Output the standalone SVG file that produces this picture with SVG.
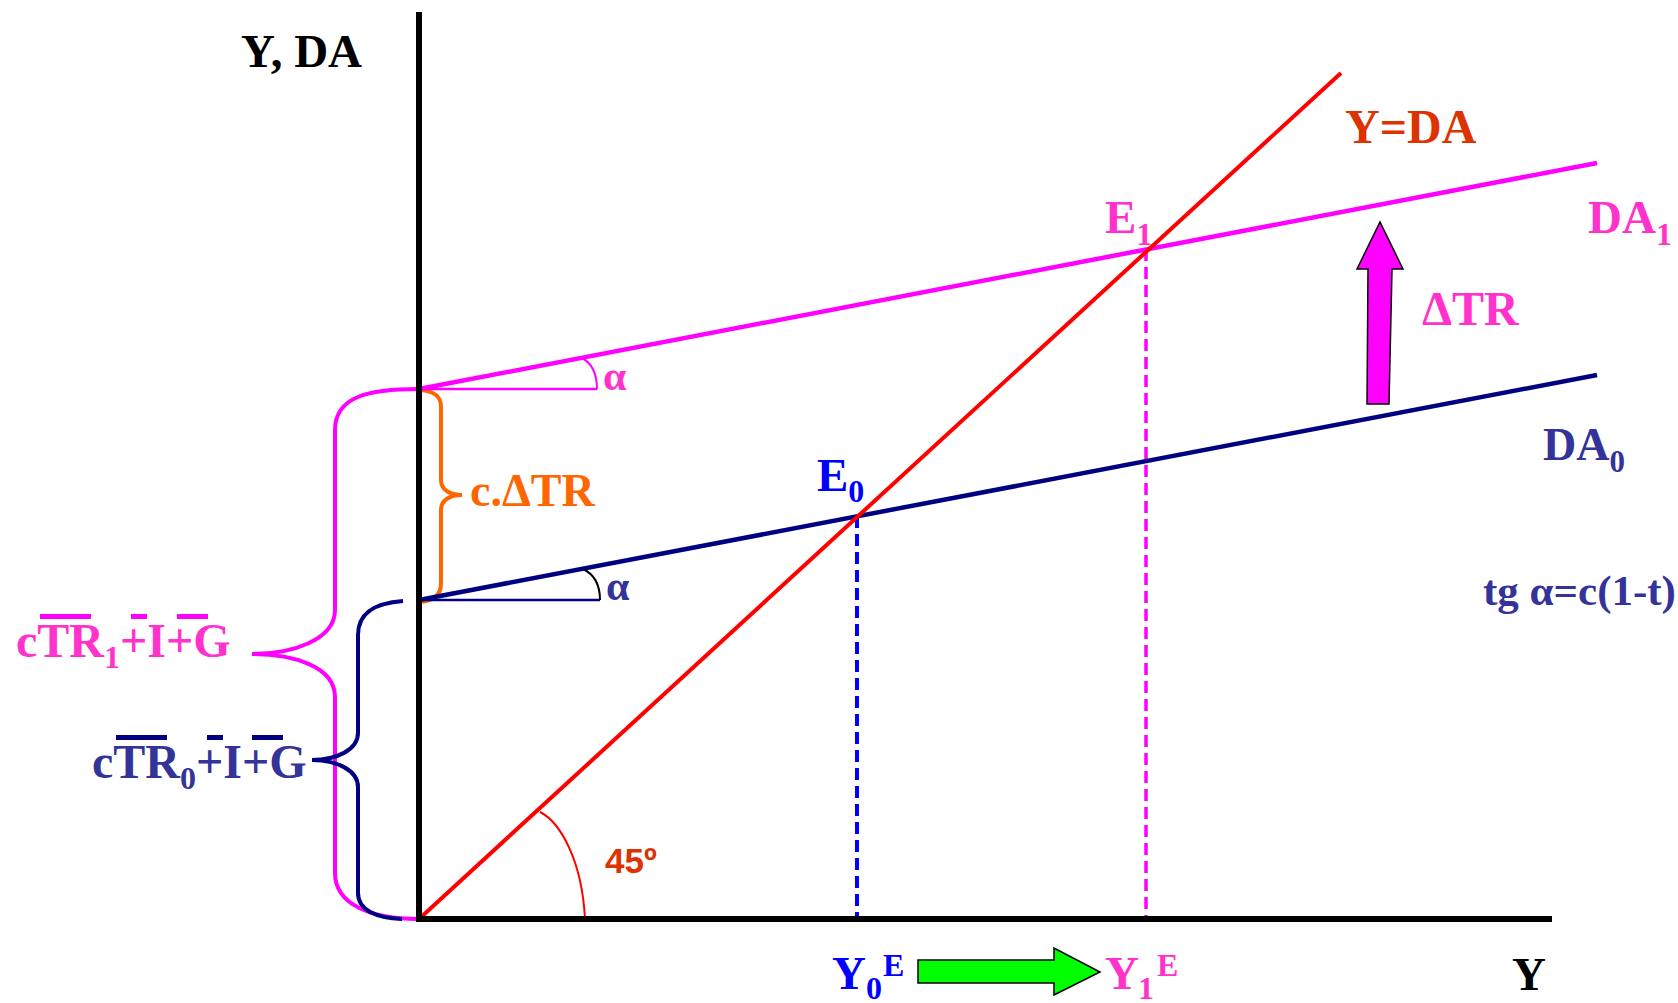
<svg xmlns="http://www.w3.org/2000/svg" width="1678" height="1003" viewBox="0 0 1678 1003">
<style>
text{font-family:"Liberation Serif","Times New Roman",serif;font-weight:bold}
.sans{font-family:"Liberation Sans",Arial,sans-serif}
.mt{fill:#FF33CC}
.nt{fill:#333399}
.bt{fill:#0000FF}
.ln{fill:none;stroke-linecap:butt}
</style>
<rect width="1678" height="1003" fill="#ffffff"/>
<g id="braces" class="ln">
  <path d="M418,389 C370,389 335,396 335,430 L335,610 C335,640 292,654 252,654 C292,654 335,666 335,697 L335,873 C335,905 372,919 418,919" stroke="#FF00FF" stroke-width="4"/>
  <path d="M403,601 C376,603 358,612 358,635 L358,733 C358,750 336,760 312,760 C336,760 358,770 358,787 L358,893 C358,910 376,918 402,919" stroke="#000080" stroke-width="4"/>
  <path d="M420,390 C434,391 441,396 441,407 L441,480 C441,490 450,495 462,495 C450,495 441,500 441,510 L441,583 C441,595 434,601 420,602" stroke="#FF6600" stroke-width="4"/>
</g>
<g id="lines" class="ln">
  <line x1="857" y1="516" x2="857" y2="917" stroke="#0000FF" stroke-width="4" stroke-dasharray="12,6"/>
  <line x1="1146" y1="249" x2="1146" y2="917" stroke="#FF00FF" stroke-width="3.5" stroke-dasharray="12,6"/>
  <line x1="418" y1="389" x2="597" y2="389" stroke="#FF00FF" stroke-width="2.5"/>
  <path d="M582,358 Q597,366 597,389" stroke="#FF00FF" stroke-width="2"/>
  <line x1="418" y1="600" x2="600" y2="600" stroke="#000080" stroke-width="2.5"/>
  <path d="M583,569 Q600,577 600,600" stroke="#000000" stroke-width="2"/>
  <line x1="419" y1="600" x2="1597" y2="375" stroke="#000080" stroke-width="4.5"/>
  <line x1="419" y1="389" x2="1597" y2="163" stroke="#FF00FF" stroke-width="4.5"/>
  <line x1="419" y1="919" x2="1341" y2="73" stroke="#FF0000" stroke-width="4"/>
  <path d="M540,812 C560,822 582,860 585,919" stroke="#FF0000" stroke-width="2"/>
</g>
<g id="axes" class="ln" stroke="#000000" stroke-width="6">
  <line x1="419" y1="12" x2="419" y2="922"/>
  <line x1="416" y1="919" x2="1552" y2="919"/>
</g>
<g id="arrows">
  <path d="M1367,404 L1368,269 L1357,269 L1380,222 L1403,269 L1392,269 L1389,404 Z" fill="#FF00FF" stroke="#000000" stroke-width="1.5"/>
  <path d="M918,960 L1054,960 L1054,948 L1100,972 L1054,995 L1054,983 L918,983 Z" fill="#00FF00" stroke="#000000" stroke-width="1.5"/>
</g>
<g id="labels">
  <text x="241" y="67" font-size="47" fill="#000000">Y, DA</text>
  <text x="1512" y="990" font-size="47" fill="#000000">Y</text>
  <text x="1345" y="143" font-size="48" fill="#DC3300">Y=DA</text>
  <text x="1588" y="233" font-size="47" class="mt">DA<tspan font-size="32" dy="12">1</tspan></text>
  <text x="1422" y="325" font-size="48" class="mt">ΔTR</text>
  <text x="1543" y="460" font-size="46" class="nt">DA<tspan font-size="31" dy="12">0</tspan></text>
  <text x="1483" y="605" font-size="43" class="nt">tg α=c(1-t)</text>
  <text x="1105" y="233" font-size="47" class="mt">E<tspan font-size="32" dy="12">1</tspan></text>
  <text x="817" y="491" font-size="47" class="bt">E<tspan font-size="32" dy="11">0</tspan></text>
  <text x="603" y="390" font-size="42" class="mt">α</text>
  <text x="606" y="600" font-size="42" class="nt">α</text>
  <text x="470" y="506" font-size="46" fill="#FF6600">c.ΔTR</text>
  <text x="605" y="873" font-size="35" class="sans" fill="#DC3300">45º</text>
  <text x="832" y="989" font-size="47" class="bt">Y</text>
  <text x="866" y="999" font-size="32" class="bt">0</text>
  <text x="883" y="976" font-size="32" class="bt">E</text>
  <text x="1105" y="989" font-size="47" class="mt">Y</text>
  <text x="1138" y="999" font-size="32" class="mt">1</text>
  <text x="1157" y="976" font-size="32" class="mt">E</text>
</g>
<g id="label-ctr1">
  <text x="16" y="657" font-size="48" class="mt">cTR<tspan font-size="32" dy="11">1</tspan><tspan dy="-11">+I+G</tspan></text>
  <rect x="40" y="614" width="51" height="5" fill="#FF00FF"/>
  <rect x="131" y="614" width="16" height="5" fill="#FF00FF"/>
  <rect x="177" y="614" width="31" height="5" fill="#FF00FF"/>
</g>
<g id="label-ctr0">
  <text x="92" y="778" font-size="48" class="nt">cTR<tspan font-size="32" dy="11">0</tspan><tspan dy="-11">+I+G</tspan></text>
  <rect x="116" y="735" width="51" height="5" fill="#000080"/>
  <rect x="207" y="735" width="16" height="5" fill="#000080"/>
  <rect x="252" y="735" width="31" height="5" fill="#000080"/>
</g>
</svg>
